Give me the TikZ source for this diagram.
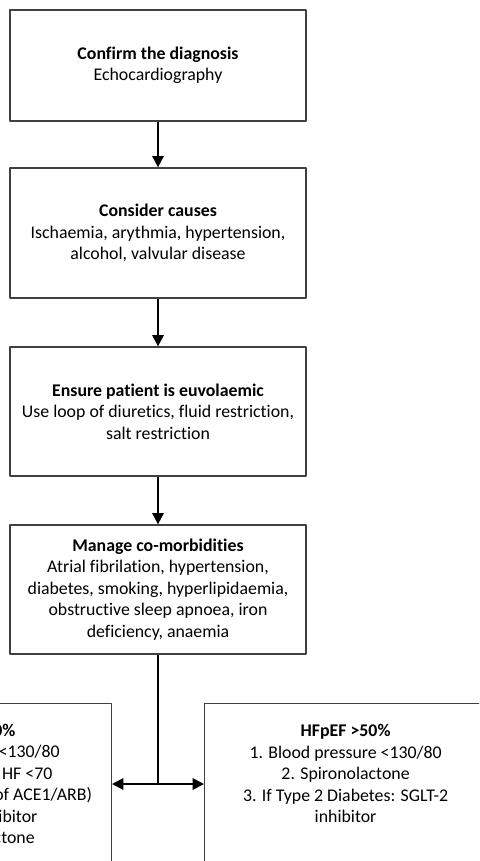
\documentclass[tikz,border=0pt]{standalone}
\usepackage{fontspec}
\setmainfont{Carlito}[Ligatures=NoCommon]
\usetikzlibrary{arrows.meta,positioning}
\begin{document}
\begin{tikzpicture}[x=0.6173pt, y=-0.6173pt, font=\fontsize{11}{13.3}\selectfont, line join=round,
	>={Triangle[length=7pt,width=7pt]},
	box/.style={draw=black!75, line width=0.8pt, minimum width=182.7pt, align=center, inner sep=0pt},
	conn/.style={line width=1.2pt}]
	\useasboundingbox (0,0) rectangle (479,861);
	\clip (0,0) rectangle (479,861);
	\node[box, minimum height=68.5pt] (diag) at (158,65.5) {\textbf{Confirm the diagnosis}\\Echocardiography};
	\node[box, minimum height=80.2pt] (causes) at (158,233) {\textbf{Consider causes}\\Ischaemia, arythmia, hypertension,\\alcohol, valvular disease};
	\node[box, minimum height=79.6pt] (euvol) at (158,411.5) {\textbf{Ensure patient is euvolaemic}\\Use loop of diuretics, fluid restriction,\\salt restriction};
	\node[box, minimum height=79.6pt] (comorb) at (158,589.5) {\textbf{Manage co-morbidities}\\Atrial fibrilation, hypertension,\\diabetes, smoking, hyperlipidaemia,\\obstructive sleep apnoea, iron\\deficiency, anaemia};
	% bottom boxes, cut by the page edge
	\node[box, anchor=north east, minimum width=185pt, minimum height=130pt] (hfref) at (112,703) {};
	\node[box, anchor=north west, minimum width=174pt, minimum height=130pt] (hfpef) at (204,703) {};
	\node[align=center, inner sep=0pt, below=13pt of hfpef.north] (hfpeftxt) {\textbf{HFpEF >50\%}\\1. Blood pressure <130/80\\2. Spironolactone\\3. If Type 2 Diabetes: SGLT-2\\inhibitor};
	\foreach \frag/\xe/\yb [count=\i] in {\textbf{0\%}/15.7/736, {<130/80}/60/757.5, {HF <70}/52.7/779, {of ACE1/ARB)}/92.3/800.5, {ibitor}/37.7/822, {ctone}/35/843.5}
		\node[anchor=base east, inner sep=0pt] (hfref-\i) at (\xe,\yb) {\frag};
	\coordinate (split) at (158,784);
	\draw[conn, ->] (diag) -- (causes);
	\draw[conn, ->] (causes) -- (euvol);
	\draw[conn, ->] (euvol) -- (comorb);
	\draw[conn] (comorb) -- (split);
	\draw[conn, <->] (split -| hfref.east) -- (split -| hfpef.west);
\end{tikzpicture}
\end{document}
